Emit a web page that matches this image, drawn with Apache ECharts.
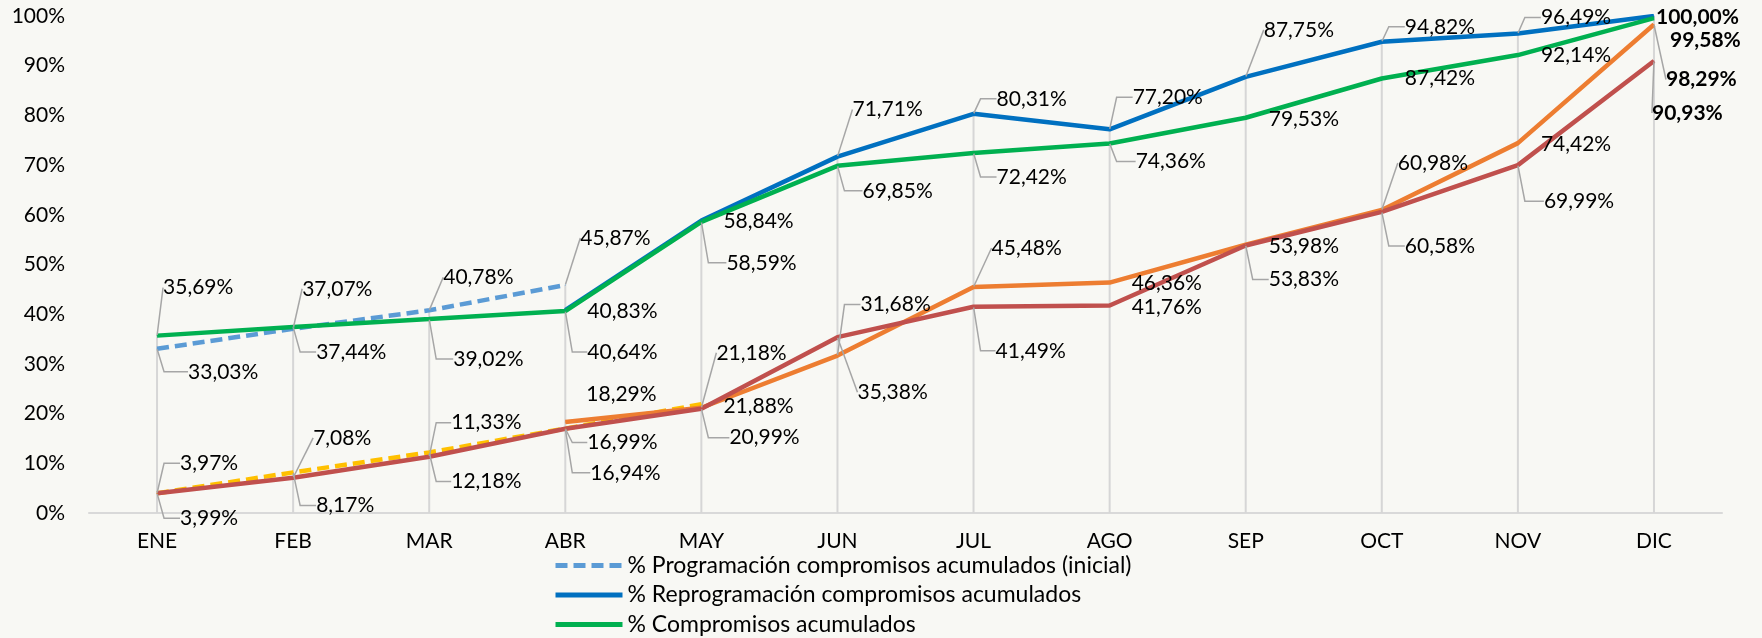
<!DOCTYPE html>
<html>
<head>
<meta charset="utf-8">
<script src="https://cdn.jsdelivr.net/npm/echarts@6/dist/echarts.min.js"></script>
<style>
  html, body { margin: 0; padding: 0; background: #f8f8f4; }
  #chart { width: 1762px; height: 638px; }
</style>
</head>
<body>
<div id="chart"></div>
<script>
var meses = ['ENE', 'FEB', 'MAR', 'ABR', 'MAY', 'JUN', 'JUL', 'AGO', 'SEP', 'OCT', 'NOV', 'DIC'];

// valores en %
var progInicial = [33.03, 37.07, 40.78, 45.87, null, null, null, null, null, null, null, null];
var reprogramacion = [null, null, null, 40.83, 58.84, 71.71, 80.31, 77.20, 87.75, 94.82, 96.49, 100.00];
var compromisos = [35.69, 37.44, 39.02, 40.64, 58.59, 69.85, 72.42, 74.36, 79.53, 87.42, 92.14, 99.58];
var progInicialOblig = [3.97, 8.17, 12.18, 16.99, 21.88, null, null, null, null, null, null, null];
var reprogOblig = [null, null, null, 18.29, 21.18, 31.68, 45.48, 46.36, 53.98, 60.98, 74.42, 98.29];
var obligaciones = [3.99, 7.08, 11.33, 16.94, 20.99, 35.38, 41.49, 41.76, 53.83, 60.58, 69.99, 90.93];

// desplazamiento de cada etiqueta respecto a su punto: [dx, dy, guia] (guia 0 = sin linea, 1 = codo, 2 = recta)
var etqProgInicial = [[31, 23, 1], [9, -40, 2], [14, -33, 2], [15, -47, 2]];
var etqReprog = [null, null, null, [22, 1, 0], [22, 1, 0], [15, -47, 2], [23, -15, 1], [23, -32, 1], [18, -47, 2], [23, -15, 1], [23, -16, 1], [2, 1, 0]];
var etqCompromisos = [[6, -48, 2], [23, 25, 1], [24, 40, 1], [22, 41, 1], [25, 41, 1], [25, 25, 1], [23, 24, 1], [26, 18, 1], [23, 1, 0], [23, 0, 0], [23, 0, 0], [16, 22, 0]];
var etqProgOblig = [[23, -30, 1], [23, 33, 1], [22, 29, 1], [22, 14, 1], [22, 2, 0]];
var etqReprogOblig = [null, null, null, [21, -28, 0], [15, -55, 2], [23, -51, 1], [18, -39, 2], [22, 1, 0], [23, 2, 0], [16, -47, 2], [23, 1, 0], [12, 55, 2]];
var etqOblig = [[23, 25, 1], [20, -40, 2], [22, -34, 1], [25, 44, 1], [28, 29, 1], [20, 55, 2], [22, 44, 1], [22, 2, 0], [23, 34, 1], [23, 34, 1], [26, 36, 1], [-2, 52, 2]];

var PAD = 7;
var fuente = 'Lato';

function fmt(v) {
    return v.toFixed(2).replace('.', ',') + '%';
}

function puntos(valores, etq) {
    return valores.map(function (v, i) {
        if (v == null) return '-';
        var e = etq[i] || [20, 0, 0];
        return {
            value: v,
            label: { fontWeight: i === 11 ? 'bold' : 'normal' },
            labelLine: { show: e[2] > 0, length2: e[2] === 1 ? Math.max(e[0] - PAD, 0) : 0 }
        };
    });
}

function serie(nombre, valores, etq, color, tipo) {
    return {
        name: nombre,
        type: 'line',
        data: puntos(valores, etq),
        symbol: 'circle',
        symbolSize: 1,
        showSymbol: true,
        z: 3,
        itemStyle: { color: color },
        lineStyle: { color: color, width: 4.5, type: tipo || 'solid', cap: 'butt' },
        label: {
            show: true,
            fontFamily: fuente,
            fontSize: 21,
            color: '#000',
            padding: [0, 0, 0, PAD],
            formatter: function (p) { return fmt(p.value); }
        },
        labelLine: { show: true, lineStyle: { color: '#a6a6a6', width: 1.5 } },
        labelLayout: function (p) {
            var e = etq[p.dataIndex] || [20, 0, 0];
            return {
                x: p.rect.x + p.rect.width / 2 + e[0] - PAD,
                y: p.rect.y + p.rect.height / 2 + e[1],
                align: 'left',
                verticalAlign: 'middle'
            };
        }
    };
}

// lineas de caida hasta el valor mas alto de cada mes
var caida = meses.map(function (m, i) {
    return Math.max.apply(null, [progInicial[i], reprogramacion[i], compromisos[i],
        progInicialOblig[i], reprogOblig[i], obligaciones[i]].map(function (v) { return v == null ? 0 : v; }));
});

var chart = echarts.init(document.getElementById('chart'));
chart.setOption({
    backgroundColor: '#f8f8f4',
    animation: false,
    textStyle: { fontFamily: fuente },
    grid: { left: 89, right: 40, top: 16, bottom: 125, containLabel: false, outerBoundsMode: 'none' },
    legend: {
        data: ['% Programación compromisos acumulados (inicial)', '% Reprogramación compromisos acumulados', '% Compromisos acumulados'],
        orient: 'vertical',
        left: 553,
        top: 554,
        height: 110,
        padding: 0,
        itemWidth: 67,
        itemHeight: 23,
        itemGap: 6.5,
        itemStyle: { opacity: 0 },
        lineStyle: { width: 5 },
        textStyle: { fontFamily: fuente, fontSize: 23, color: '#000', lineHeight: 23 }
    },
    xAxis: {
        type: 'category',
        data: meses,
        boundaryGap: true,
        axisLine: { lineStyle: { color: '#d9d9d9', width: 2 } },
        axisTick: { show: false },
        axisLabel: { fontFamily: fuente, fontSize: 21, color: '#000', margin: 18 },
        splitLine: { show: false }
    },
    yAxis: {
        type: 'value',
        min: 0,
        max: 100,
        interval: 10,
        axisLine: { show: false },
        axisTick: { show: false },
        splitLine: { show: false },
        axisLabel: { fontFamily: fuente, fontSize: 21, color: '#000', margin: 24, formatter: '{value}%' }
    },
    series: [
        {
            name: 'caida',
            type: 'bar',
            data: caida,
            barWidth: 2,
            silent: true,
            z: 1,
            itemStyle: { color: '#d6d6d6' }
        },
        serie('% Programación compromisos acumulados (inicial)', progInicial, etqProgInicial, '#5b9bd5', [12, 6]),
        serie('% Reprogramación compromisos acumulados', reprogramacion, etqReprog, '#0070c0'),
        serie('% Compromisos acumulados', compromisos, etqCompromisos, '#00b050'),
        serie('% Programación obligaciones acumuladas (inicial)', progInicialOblig, etqProgOblig, '#ffc000', [12, 6]),
        serie('% Reprogramación obligaciones acumuladas', reprogOblig, etqReprogOblig, '#ed7d31'),
        serie('% Obligaciones acumuladas', obligaciones, etqOblig, '#c0504d')
    ]
});
</script>
</body>
</html>
